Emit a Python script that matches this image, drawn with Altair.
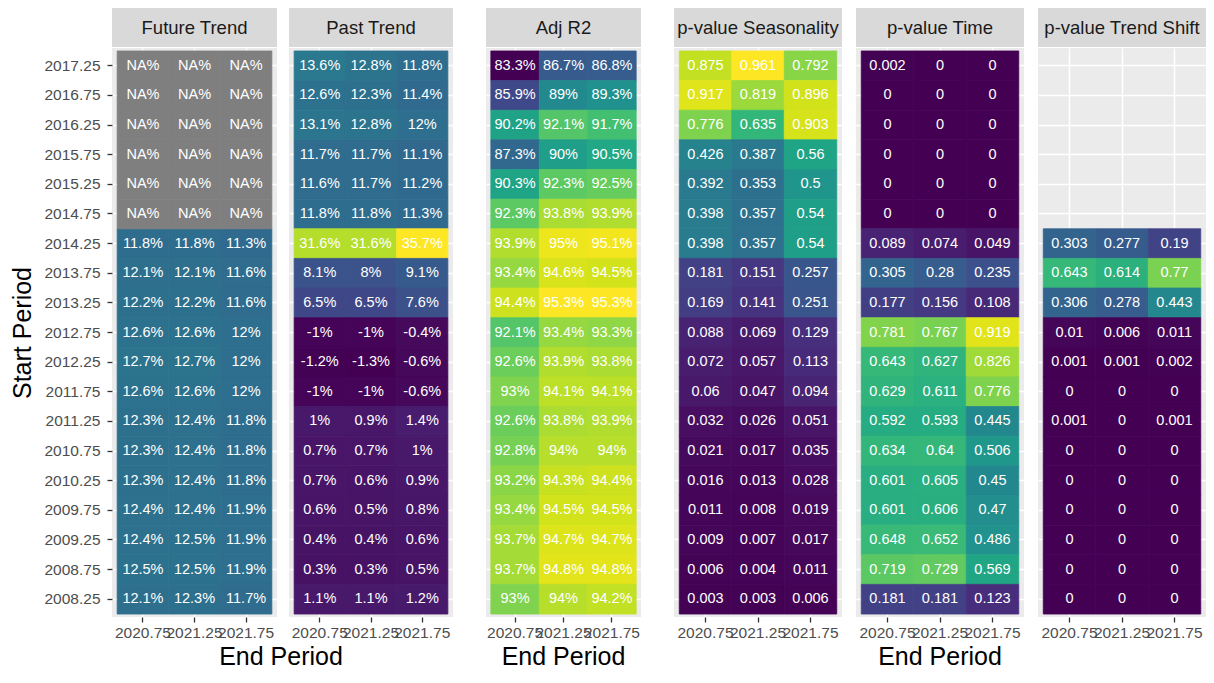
import altair as alt
import pandas as pd

FONT = "Liberation Sans, Arial, sans-serif"

start = ["2017.25", "2016.75", "2016.25", "2015.75", "2015.25", "2014.75", "2014.25",
         "2013.75", "2013.25", "2012.75", "2012.25", "2011.75", "2011.25", "2010.75",
         "2010.25", "2009.75", "2009.25", "2008.75", "2008.25"]
end = ["2020.75", "2021.25", "2021.75"]

future_trend = [
    [None, None, None], [None, None, None], [None, None, None],
    [None, None, None], [None, None, None], [None, None, None],
    [11.8, 11.8, 11.3], [12.1, 12.1, 11.6], [12.2, 12.2, 11.6],
    [12.6, 12.6, 12.0], [12.7, 12.7, 12.0], [12.6, 12.6, 12.0],
    [12.3, 12.4, 11.8], [12.3, 12.4, 11.8], [12.3, 12.4, 11.8],
    [12.4, 12.4, 11.9], [12.4, 12.5, 11.9], [12.5, 12.5, 11.9],
    [12.1, 12.3, 11.7],
]
past_trend = [
    [13.6, 12.8, 11.8], [12.6, 12.3, 11.4], [13.1, 12.8, 12.0],
    [11.7, 11.7, 11.1], [11.6, 11.7, 11.2], [11.8, 11.8, 11.3],
    [31.6, 31.6, 35.7], [8.1, 8.0, 9.1], [6.5, 6.5, 7.6],
    [-1.0, -1.0, -0.4], [-1.2, -1.3, -0.6], [-1.0, -1.0, -0.6],
    [1.0, 0.9, 1.4], [0.7, 0.7, 1.0], [0.7, 0.6, 0.9],
    [0.6, 0.5, 0.8], [0.4, 0.4, 0.6], [0.3, 0.3, 0.5],
    [1.1, 1.1, 1.2],
]
adj_r2 = [
    [83.3, 86.7, 86.8], [85.9, 89.0, 89.3], [90.2, 92.1, 91.7],
    [87.3, 90.0, 90.5], [90.3, 92.3, 92.5], [92.3, 93.8, 93.9],
    [93.9, 95.0, 95.1], [93.4, 94.6, 94.5], [94.4, 95.3, 95.3],
    [92.1, 93.4, 93.3], [92.6, 93.9, 93.8], [93.0, 94.1, 94.1],
    [92.6, 93.8, 93.9], [92.8, 94.0, 94.0], [93.2, 94.3, 94.4],
    [93.4, 94.5, 94.5], [93.7, 94.7, 94.7], [93.7, 94.8, 94.8],
    [93.0, 94.0, 94.2],
]
p_season = [
    [0.875, 0.961, 0.792], [0.917, 0.819, 0.896], [0.776, 0.635, 0.903],
    [0.426, 0.387, 0.56], [0.392, 0.353, 0.5], [0.398, 0.357, 0.54],
    [0.398, 0.357, 0.54], [0.181, 0.151, 0.257], [0.169, 0.141, 0.251],
    [0.088, 0.069, 0.129], [0.072, 0.057, 0.113], [0.06, 0.047, 0.094],
    [0.032, 0.026, 0.051], [0.021, 0.017, 0.035], [0.016, 0.013, 0.028],
    [0.011, 0.008, 0.019], [0.009, 0.007, 0.017], [0.006, 0.004, 0.011],
    [0.003, 0.003, 0.006],
]
p_time = [
    [0.002, 0.0, 0.0], [0.0, 0.0, 0.0], [0.0, 0.0, 0.0],
    [0.0, 0.0, 0.0], [0.0, 0.0, 0.0], [0.0, 0.0, 0.0],
    [0.089, 0.074, 0.049], [0.305, 0.28, 0.235], [0.177, 0.156, 0.108],
    [0.781, 0.767, 0.919], [0.643, 0.627, 0.826], [0.629, 0.611, 0.776],
    [0.592, 0.593, 0.445], [0.634, 0.64, 0.506], [0.601, 0.605, 0.45],
    [0.601, 0.606, 0.47], [0.648, 0.652, 0.486], [0.719, 0.729, 0.569],
    [0.181, 0.181, 0.123],
]
p_shift = [
    None, None, None, None, None, None,
    [0.303, 0.277, 0.19], [0.643, 0.614, 0.77], [0.306, 0.278, 0.443],
    [0.01, 0.006, 0.011], [0.001, 0.001, 0.002], [0.0, 0.0, 0.0],
    [0.001, 0.0, 0.001], [0.0, 0.0, 0.0], [0.0, 0.0, 0.0],
    [0.0, 0.0, 0.0], [0.0, 0.0, 0.0], [0.0, 0.0, 0.0],
    [0.0, 0.0, 0.0],
]

trend_domain = [-1.3, 35.7]
r2_domain = [83.3, 95.3]
p_domain = [0.0, 0.961]


def fmt_pct(v):
    return "NA%" if v is None else f"{v:g}%"


def fmt_p(v):
    return f"{v:g}"


def to_long(values, fmt):
    rows = []
    for s, triple in zip(start, values):
        if triple is None:
            continue
        for e, v in zip(end, triple):
            rows.append({"start": s, "end": e, "v": v, "label": fmt(v)})
    return pd.DataFrame(rows)


H = 569
GRID = dict(grid=True, gridColor="white", gridWidth=1.5, bandPosition=0.5, zindex=0)


def panel(values, fmt, title, w, domain, show_y=False):
    df = to_long(values, fmt)
    xenc = alt.X("end:O", scale=alt.Scale(domain=end, paddingInner=0, paddingOuter=0.1),
                 axis=alt.Axis(title=None, labelFontSize=15.5, labelColor="#4D4D4D",
                               labelFont=FONT, tickColor="#333333", tickSize=5, tickWidth=1.3,
                               domain=False, labelPadding=3, labelOverlap=False,
                               labelAngle=0, labelBound=False, **GRID))
    if show_y:
        yaxis = alt.Axis(title="Start Period", titleFontSize=25, titleFont=FONT,
                         titleFontWeight="normal", titleColor="black", titlePadding=8,
                         labelFontSize=15.5, labelColor="#4D4D4D", labelFont=FONT,
                         tickColor="#333333", tickSize=5, tickWidth=1.3, domain=False,
                         labelPadding=7, labelOverlap=False, **GRID)
    else:
        yaxis = alt.Axis(title=None, labels=False, ticks=False, domain=False, **GRID)
    yenc = alt.Y("start:O", scale=alt.Scale(domain=start, paddingInner=0, paddingOuter=0.1),
                 axis=yaxis)
    cscale = alt.Scale(scheme="viridis", domain=domain, nice=False, zero=False)
    base = alt.Chart(df)
    tiles = base.transform_filter("isValid(datum.v)").mark_rect(strokeWidth=0.8).encode(
        x=xenc, y=yenc,
        color=alt.Color("v:Q", scale=cscale, legend=None),
        stroke=alt.Stroke("v:Q", scale=cscale, legend=None),
    )
    na = base.transform_filter("!isValid(datum.v)").mark_rect(
        color="#7F7F7F", stroke="#7F7F7F", strokeWidth=0.8).encode(x=xenc, y=yenc)
    text = base.mark_text(color="white", fontSize=14.5, font=FONT).encode(
        x=xenc, y=yenc, text="label:N")
    sdf = pd.DataFrame({"t": [title]})
    strip_rect = alt.Chart(sdf).mark_rect(color="#D9D9D9").encode(
        x=alt.value(0), x2=alt.value(w), y=alt.value(-40), y2=alt.value(-1))
    strip_text = alt.Chart(sdf).mark_text(fontSize=18.5, font=FONT, color="#1A1A1A",
                                          baseline="middle", align="center").encode(
        x=alt.value(w / 2), y=alt.value(-20), text="t:N")
    return alt.layer(tiles, na, text, strip_rect, strip_text).properties(width=w, height=H)


def group_title(dx=0):
    return alt.TitleParams("End Period", orient="bottom", anchor="middle", frame="bounds",
                           fontSize=25, font=FONT, fontWeight="normal", color="black",
                           offset=4, dx=dx)


p1 = panel(future_trend, fmt_pct, "Future Trend", 165, trend_domain, show_y=True)
p2 = panel(past_trend, fmt_pct, "Past Trend", 164, trend_domain)
p3 = panel(adj_r2, fmt_pct, "Adj R2", 155, r2_domain)
p4 = panel(p_season, fmt_p, "p-value Seasonality", 168, p_domain)
p5 = panel(p_time, fmt_p, "p-value Time", 168, p_domain)
p6 = panel(p_shift, fmt_p, "p-value Trend Shift", 168, p_domain)

g1 = alt.hconcat(p1, p2, spacing=12, title=group_title(dx=49))
g2 = alt.hconcat(p3, spacing=0, title=group_title())
g3 = alt.hconcat(p4, p5, p6, spacing=14, title=group_title())

chart = alt.hconcat(g1, g2, g3, spacing=33).resolve_scale(
    color="independent", stroke="independent"
).properties(
    padding={"left": 2, "right": 0, "top": 0, "bottom": 0}
).configure(background="white").configure_view(fill="#EBEBEB", stroke=None)

chart.save("out.html", embed_options={"renderer": "svg", "actions": False})
